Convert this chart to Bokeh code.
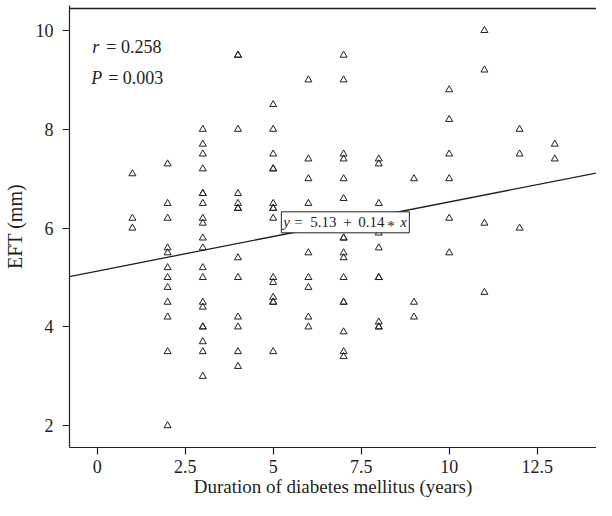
from bokeh.plotting import figure
from bokeh.models import Label, FixedTicker, Range1d, Span
from bokeh.embed import file_html
from bokeh.resources import INLINE

# ---- data ----
duration_years = [
    1, 1, 1,
    2, 2, 2, 2, 2, 2, 2, 2, 2, 2, 2, 2,
    3, 3, 3, 3, 3, 3, 3, 3, 3, 3, 3, 3, 3, 3, 3, 3, 3, 3, 3, 3,
    4, 4, 4, 4, 4, 4, 4, 4, 4, 4, 4, 4, 4,
    5, 5, 5, 5, 5, 5, 5, 5, 5, 5, 5, 5, 5, 5, 5,
    6, 6, 6, 6, 6, 6, 6, 6, 6,
    7, 7, 7, 7, 7, 7, 7, 7, 7, 7, 7, 7, 7, 7, 7, 7,
    8, 8, 8, 8, 8, 8, 8, 8, 8, 8,
    9, 9, 9,
    10, 10, 10, 10, 10, 10,
    11, 11, 11, 11,
    12, 12, 12,
    13, 13,
]
eft_mm = [
    7.1, 6.2, 6.0,
    7.3, 6.5, 6.2, 5.6, 5.5, 5.2, 5.0, 4.8, 4.5, 4.2, 3.5, 2.0,
    8.0, 7.7, 7.5, 7.2, 6.7, 6.7, 6.5, 6.2, 6.1, 5.8, 5.6, 5.2, 5.0, 4.5, 4.4, 4.0, 4.0, 3.7, 3.5, 3.0,
    9.5, 9.5, 8.0, 6.7, 6.5, 6.4, 6.4, 5.4, 5.0, 4.2, 4.0, 3.5, 3.2,
    8.5, 8.0, 7.5, 7.2, 7.2, 6.5, 6.4, 6.4, 6.2, 5.0, 4.9, 4.6, 4.5, 4.5, 3.5,
    9.0, 7.4, 7.0, 6.5, 5.5, 5.0, 4.8, 4.2, 4.0,
    9.5, 9.0, 7.5, 7.4, 7.0, 6.6, 5.8, 5.8, 5.5, 5.4, 5.0, 4.5, 4.5, 3.9, 3.5, 3.4,
    7.4, 7.3, 6.5, 5.9, 5.6, 5.0, 5.0, 4.1, 4.0, 4.0,
    7.0, 4.5, 4.2,
    8.8, 8.2, 7.5, 7.0, 6.2, 5.5,
    10.0, 9.2, 6.1, 4.7,
    8.0, 7.5, 6.0,
    7.7, 7.4,
]
intercept = 5.13
slope = 0.14
r_value = "0.258"
p_value = "0.003"

x_ticks = [0, 2.5, 5, 7.5, 10, 12.5]
x_tick_labels = ["0", "2.5", "5", "7.5", "10", "12.5"]
y_ticks = [2, 4, 6, 8, 10]
y_tick_labels = ["2", "4", "6", "8", "10"]

x_title = "Duration of diabetes mellitus (years)"
y_title = "EFT (mm)"

# ---- styling ----
INK = "#231f20"
FONT = "Liberation Serif"

X0, X1 = -0.787, 14.185
Y0, Y_TOP = 1.559, 10.445          # Y_TOP: where the box's top rule sits
PX_PER_Y = 49.4
Y1 = Y_TOP + 3 / PX_PER_Y           # a little headroom so the rule is not clipped

p = figure(width=596, height=500, output_backend="svg", toolbar_location=None,
           x_range=Range1d(X0, X1), y_range=Range1d(Y0, Y1),
           min_border_left=69, min_border_bottom=53, min_border_top=5,
           min_border_right=0)
p.outline_line_color = None
p.grid.visible = False
p.background_fill_color = "white"
p.border_fill_color = "white"

def style_axis(ax, ticks, labels, title, tick_size, title_size):
    ax.ticker = FixedTicker(ticks=ticks)
    ax.major_label_overrides = {t: l for t, l in zip(ticks, labels)}
    ax.axis_label = title
    ax.axis_label_text_font = FONT
    ax.axis_label_text_font_style = "normal"
    ax.axis_label_text_font_size = title_size
    ax.axis_label_text_color = INK
    ax.major_label_text_font = FONT
    ax.major_label_text_font_size = tick_size
    ax.major_label_text_color = INK
    ax.axis_line_color = INK
    ax.axis_line_width = 1.2
    ax.major_tick_line_color = INK
    ax.major_tick_line_width = 1.2
    ax.major_tick_out = 7
    ax.major_tick_in = 0
    ax.minor_tick_line_color = None

style_axis(p.xaxis[0], x_ticks, x_tick_labels, x_title, "18px", "19px")
style_axis(p.yaxis[0], y_ticks, y_tick_labels, y_title, "18px", "20px")
p.xaxis[0].major_label_standoff = 5
p.xaxis[0].axis_label_standoff = 0
p.yaxis[0].major_label_standoff = 9
p.yaxis[0].axis_label_standoff = 7

# top border rule, drawn just inside the frame
p.add_layout(Span(location=Y_TOP, dimension="width", line_color=INK, line_width=1.3))

# regression line across the frame
line_x = [X0, X1]
line_y = [intercept + slope * v for v in line_x]
p.line(line_x, line_y, line_color=INK, line_width=1.3)

# points
p.scatter(duration_years, eft_mm, marker="triangle", size=7,
          fill_color=None, line_color=INK, line_width=1.0)

# equation box
lab_x = 7.05
lab_y = intercept + slope * lab_x
p.rect(x=[lab_x], y=[lab_y], width=128, height=21, width_units="screen",
       height_units="screen", fill_color="white", line_color=INK, line_width=1.0)

eq_parts = [
    ("y", "italic", -62, 0),
    ("=", "normal", -51, 0),
    (f"{intercept}", "normal", -35, 0),
    ("+", "normal", -2, 0),
    (f"{slope}", "normal", 13, 0),
    ("*", "normal", 42, -4),
    ("x", "italic", 55, 0),
]
for txt, style, dx, dy in eq_parts:
    p.add_layout(Label(x=lab_x, y=lab_y, x_offset=dx, y_offset=dy, text=txt,
                       text_font=FONT, text_font_size="15px",
                       text_font_style=style, text_color=INK,
                       text_align="left", text_baseline="middle"))

# r and P annotation
stat = dict(text_font=FONT, text_font_size="18px", text_color=INK,
            text_baseline="alphabetic", text_align="left")
p.add_layout(Label(x=-0.14, y=9.66, text="r", text_font_style="italic", **stat))
p.add_layout(Label(x=-0.14, y=9.66, x_offset=14, text=f"= {r_value}", **stat))
p.add_layout(Label(x=-0.17, y=9.04, text="P", text_font_style="italic", **stat))
p.add_layout(Label(x=-0.17, y=9.04, x_offset=17, text=f"= {p_value}", **stat))

open("out.html", "w").write(file_html(p, INLINE))
